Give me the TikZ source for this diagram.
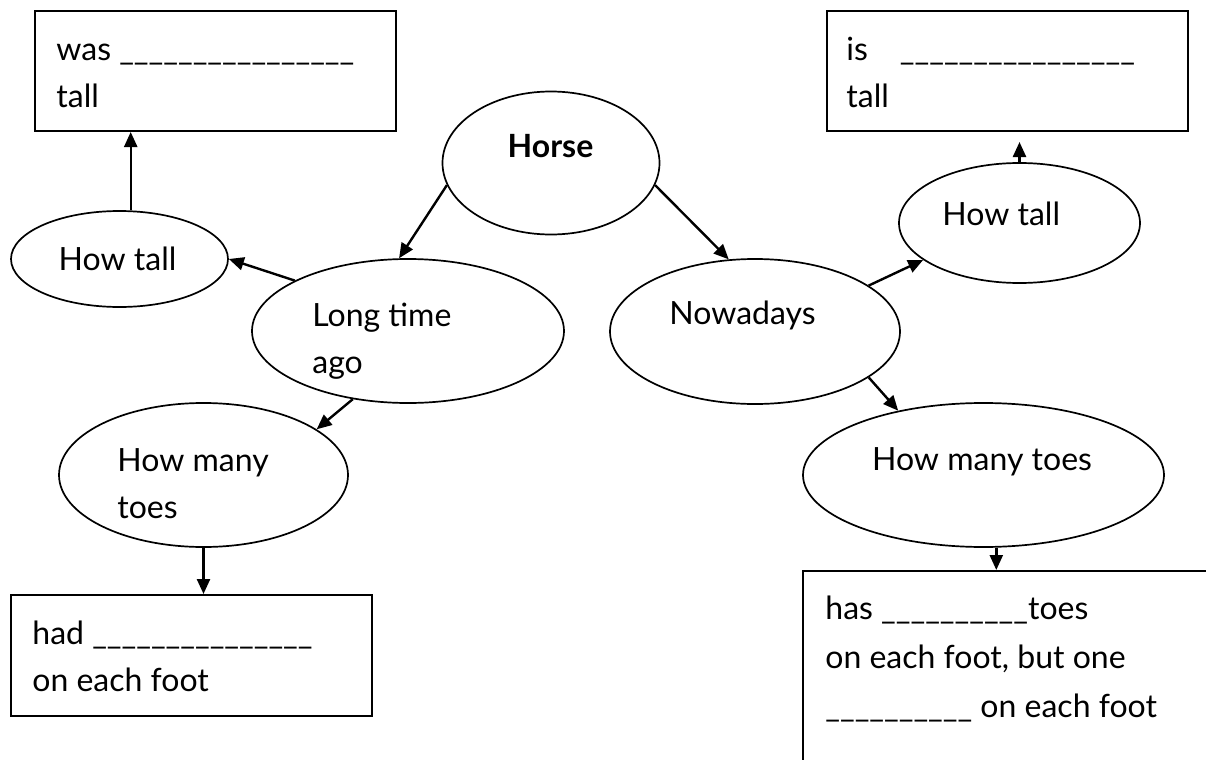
\documentclass[tikz,border=0pt]{standalone}
\usepackage{fontspec}
\setmainfont{Lato}
\usetikzlibrary{shapes.geometric,arrows.meta,positioning}

\tikzset{
  bubble/.style={ellipse, draw, line width=0.85pt, inner sep=0pt},
  answer/.style={rectangle, draw, line width=1pt, inner sep=0pt},
  words/.style={inner sep=0pt, align=left, font=\fontsize{16}{23.5}\selectfont},
  link/.style={-{Triangle[length=7.5pt,width=6.5pt]}, line width=1.2pt},
}
\newcommand{\blanks}[1]{\foreach \i in {1,...,#1}{\_}}

\begin{document}
\begin{tikzpicture}[x=0.5pt, y=-0.5pt]

    \useasboundingbox (0,0) rectangle (1206,760);

    % Define nodes
    \node[bubble, minimum width=108.5pt, minimum height=71.5pt] (horse)    at (551,163)   {};
    \node[bubble, minimum width=156pt,   minimum height=72pt]   (past)     at (408,331)   {};
    \node[bubble, minimum width=145pt,   minimum height=72.5pt] (now)      at (755,331.5) {};
    \node[bubble, minimum width=108.5pt, minimum height=48pt]   (pastTall) at (119.5,259) {};
    \node[bubble, minimum width=144.5pt, minimum height=72pt]   (pastToes) at (203.5,475) {};
    \node[bubble, minimum width=120.5pt, minimum height=60pt]   (nowTall)  at (1019.5,223) {};
    \node[bubble, minimum width=180.5pt, minimum height=72pt]   (nowToes)  at (983.5,475) {};

    \node[answer, minimum width=180.5pt, minimum height=60pt]   (pastTallBox) at (215.5,71)   {};
    \node[answer, minimum width=180.5pt, minimum height=60pt]   (nowTallBox)  at (1007.5,71)  {};
    \node[answer, minimum width=180.5pt, minimum height=60.5pt] (pastToesBox) at (191.5,655.5) {};
    \begin{scope}
      \clip (0,0) rectangle (1206,760);
      \node[answer, minimum width=210pt, minimum height=110pt]  (nowToesBox)  at (1013,681)   {};
    \end{scope}

    % Texts (base = last line)
    \node[words, anchor=base, font=\fontsize{16}{23.5}\selectfont\bfseries] (horseTxt) at (550.5,157) {Horse};
    \node[words, anchor=base west] (pastTxt)     at (312,373)  {Long time\\ago};
    \node[words, anchor=base west] (nowTxt)      at (669,324)  {Nowadays};
    \node[words, anchor=base]      (pastTallTxt) at (117.5,270) {How tall};
    \node[words, anchor=base west] (nowTallTxt)  at (942,225)  {How tall};
    \node[words, anchor=base west] (pastToesTxt) at (117,518)  {How many\\toes};
    \node[words, anchor=base]      (nowToesTxt)  at (982,470)  {How many toes};

    \node[words, anchor=base west] (pastTallFill) at (56,107)  {was \blanks{16}\\tall};
    \node[words, anchor=base west] (nowTallFill)  at (846,107) {is\hspace{16pt}\blanks{16}\\tall};
    \node[words, anchor=base west] (pastToesFill) at (32,691)  {had \blanks{15}\\on each foot};
    \node[words, anchor=base west, font=\fontsize{16}{24.5}\selectfont]
                                   (nowToesFill)  at (825,717) {has \blanks{10}toes\\on each foot, but one\\\blanks{10} on each foot};

    % Connect the nodes
    \draw[link] (horse.192) -- (past.97);
    \draw[link] (horse.-12) -- (now.110);
    \draw[link] (past.156) -- (pastTall.east);
    \draw[link] (past.231) -- (pastToes.22);
    \draw[link] (pastTall.77) -- (pastTall.77 |- pastTallBox.south);
    \draw[link] (pastToes.south) -- (pastToes.south |- pastToesBox.north);
    \draw[link] (now.22) -- (nowTall.201);
    \draw[link, shorten >=5pt] (nowTall.north) -- (nowTall.north |- nowTallBox.south);
    \draw[link] (now.-22) -- (nowToes.143);
    \draw[link] (nowToes.-80) -- (nowToes.-80 |- nowToesBox.north);

\end{tikzpicture}
\end{document}
